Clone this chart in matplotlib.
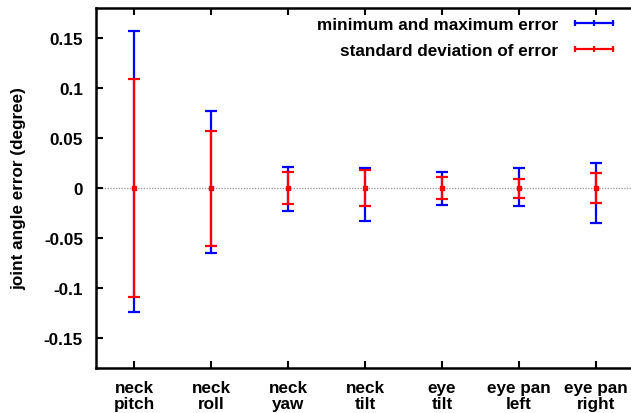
import numpy as np
import matplotlib
matplotlib.use('Agg')
import matplotlib.pyplot as plt
from matplotlib.lines import Line2D

# joint names and error values (degree)
joints = ['neck\npitch', 'neck\nroll', 'neck\nyaw', 'neck\ntilt',
          'eye\ntilt', 'eye pan\nleft', 'eye pan\nright']
mean_err = [0, 0, 0, 0, 0, 0, 0]
max_err = [0.157, 0.077, 0.021, 0.020, 0.016, 0.020, 0.025]
min_err = [-0.124, -0.065, -0.023, -0.033, -0.017, -0.018, -0.035]
std_err = [0.109, 0.0575, 0.016, 0.0177, 0.0106, 0.0095, 0.015]

plt.rcParams['font.family'] = ['Liberation Sans', 'DejaVu Sans']
plt.rcParams['font.weight'] = 'bold'
plt.rcParams['font.size'] = 12.3

fig = plt.figure(figsize=(6.31, 4.14), dpi=100)
ax = fig.add_axes([95.5/631, 45/414, 539/631, 360/414])

x = np.arange(len(joints))
mean_err = np.array(mean_err)
max_err = np.array(max_err)
min_err = np.array(min_err)
std_err = np.array(std_err)

ax.axhline(0, color='#a0a0a0', lw=1, ls=(0, (1, 1)), zorder=1)

ax.errorbar(x, mean_err, yerr=[mean_err - min_err, max_err - mean_err],
            fmt='none', ecolor='blue', elinewidth=1.6, capsize=4, capthick=1.6, zorder=2)
ax.errorbar(x, mean_err, yerr=std_err, fmt='s', color='red', ms=3.5,
            ecolor='red', elinewidth=1.6, capsize=4, capthick=1.6, zorder=3)

ax.set_xlim(-0.5, 6.5)
ax.set_ylim(-0.18, 0.18)
ax.set_xticks(x)
ax.set_xticklabels(joints, linespacing=1.05)
ax.set_yticks([-0.15, -0.1, -0.05, 0, 0.05, 0.1, 0.15])
ax.set_yticklabels(['-0.15', '-0.1', '-0.05', '0', '0.05', '0.1', '0.15'])
ax.tick_params(direction='in', length=5, width=1.5, top=True, right=False)
ax.tick_params(axis='y', pad=9)
ax.tick_params(axis='x', pad=9)
for s in ax.spines.values():
    s.set_linewidth(1.8)

ax.set_ylabel('joint angle error (degree)', fontweight='bold', labelpad=13)

handles = [Line2D([0], [0], color='blue', lw=1.6, marker='|', ms=5, mew=1.6),
           Line2D([0], [0], color='red', lw=1.6, marker='|', ms=5, mew=1.6)]
ax.legend(handles, ['minimum and maximum error', 'standard deviation of error'],
          loc='upper right', bbox_to_anchor=(618/631, 1 - 18/414),
          bbox_transform=fig.transFigure, frameon=False, markerfirst=False,
          numpoints=3, handlelength=2.8, handletextpad=0.7, labelspacing=0.65,
          borderaxespad=0, borderpad=0)

fig.savefig('out.png', dpi=100)
